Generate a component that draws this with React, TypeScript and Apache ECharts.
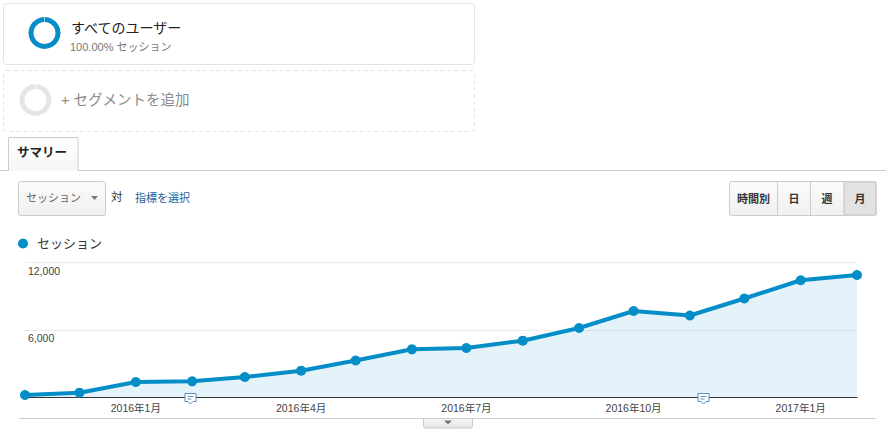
import React, { useEffect, useRef } from "react";
import * as echarts from "echarts";

const months = ["2015-11", "2015-12", "2016-01", "2016-02", "2016-03", "2016-04", "2016-05", "2016-06", "2016-07", "2016-08", "2016-09", "2016-10", "2016-11", "2016-12", "2017-01", "2017-02"];
const sessions = [222, 427, 1378, 1440, 1822, 2382, 3290, 4284, 4400, 5050, 6178, 7690, 7290, 8800, 10420, 10890];
const labelledMonths = ["2016-01", "2016-04", "2016-07", "2016-10", "2017-01"];
const yTicks = [6000, 12000];
const buttons = ["時間別", "日", "週", "月"];

const FONT = '"Liberation Sans", "Noto Sans CJK JP", sans-serif';
const BLUE = "#058dc7";
const ts = (m: string) => {
  const [y, mo] = m.split("-").map(Number);
  return Date.UTC(y, mo - 1, 1);
};

const txt = (text: string, x: number, y: number, fontSize: number, fill: string, extra: any = {}) => ({
  type: "text",
  x,
  y,
  silent: true,
  style: { text, fontSize, fill, fontFamily: FONT, verticalAlign: "middle", ...extra },
});
const grad = (a: string, b: string) => ({
  type: "linear", x: 0, y: 0, x2: 0, y2: 1,
  colorStops: [{ offset: 0, color: a }, { offset: 1, color: b }],
});
const rect = (x: number, y: number, width: number, height: number, style: any, r: any = 0) => ({
  type: "rect",
  silent: true,
  shape: { x, y, width, height, r },
  style,
});
const line = (x1: number, y1: number, x2: number, y2: number, stroke: string) => ({
  type: "line",
  silent: true,
  shape: { x1, y1, x2, y2 },
  style: { stroke, lineWidth: 1 },
});
const ring = (cx: number, cy: number, fill: string) => [
  { type: "ring", silent: true, shape: { cx, cy, r: 16, r0: 11 }, style: { fill } },
  rect(cx - 0.3, cy - 17, 0.6, 7, { fill: "#fff" }),
];
const bubble = (cx: number, y: number) => [
  { type: "polygon", silent: true, z: 20, shape: { points: [[cx - 6, y], [cx + 5, y], [cx + 5, y + 8], [cx + 2, y + 8], [cx - 0.5, y + 10.5], [cx - 3, y + 8], [cx - 6, y + 8]] }, style: { fill: "#fff", stroke: "#5b8db8", lineWidth: 1 } },
  { type: "line", silent: true, z: 21, shape: { x1: cx - 3.5, y1: y + 3, x2: cx + 2.5, y2: y + 3 }, style: { stroke: "#6f8fa8", lineWidth: 1 } },
  { type: "line", silent: true, z: 21, shape: { x1: cx - 3.5, y1: y + 5.5, x2: cx + 0.5, y2: y + 5.5 }, style: { stroke: "#6f8fa8", lineWidth: 1 } },
];

const btnEdges = [729.5, 777.5, 810.5, 843.5, 876.5];

export default function App() {
  const ref = useRef<HTMLDivElement>(null);
  useEffect(() => {
    document.body.style.margin = "0";
    const chart = echarts.init(ref.current!, undefined, { renderer: "svg" });
    const elements: any[] = [
      rect(3.5, 3.5, 471, 61, { fill: "#fff", stroke: "#e3e3e3", lineWidth: 1 }, 3),
      ...ring(44.5, 33, "#058dc7"),
      txt("すべてのユーザー", 71, 28, 14, "#222"),
      txt("100.00% セッション", 70, 47, 11, "#777"),
      rect(3.5, 70.5, 471, 61, { fill: "#fff", stroke: "#e3e3e3", lineWidth: 1, lineDash: [4, 3] }, 3),
      ...ring(35.5, 100, "#e5e5e5"),
      txt("+ セグメントを追加", 61, 100, 14.5, "#8a8a8a"),
      line(0, 170.5, 886, 170.5, "#cccccc"),
      rect(8.5, 137.5, 69.5, 33, { fill: grad("#ffffff", "#f6f6f6"), stroke: "#cccccc", lineWidth: 1 }),
      rect(9, 169, 68.5, 2, { fill: "#f6f6f6" }),
      txt("サマリー", 17, 153, 12.5, "#222", { fontWeight: "bold" }),
      rect(18.5, 181.5, 87, 34, { fill: grad("#fbfbfb", "#f0f0f0"), stroke: "#cccccc", lineWidth: 1 }, 2),
      txt("セッション", 26, 198, 11, "#666"),
      { type: "polygon", silent: true, shape: { points: [[91, 196], [98, 196], [94.5, 200]] }, style: { fill: "#777" } },
      txt("対", 111, 197, 11.5, "#333"),
      txt("指標を選択", 135, 198, 11, "#1a64a0"),
      rect(729.5, 181.5, 147, 34, { fill: grad("#fbfbfb", "#f0f0f0"), stroke: "#cccccc", lineWidth: 1 }, 2),
      rect(844, 182, 32, 33, { fill: "#e2e2e2", stroke: "#d0d0d0", lineWidth: 1.5 }, 2),
      line(777.5, 182, 777.5, 215, "#cccccc"),
      line(810.5, 182, 810.5, 215, "#cccccc"),
      ...buttons.map((b, i) => txt(b, (btnEdges[i] + btnEdges[i + 1]) / 2, 198.5, 11, "#333", { align: "center", fontWeight: "bold" })),
      line(19, 418.5, 876, 418.5, "#cccccc"),
      rect(423.5, 418.5, 49, 9.5, { fill: grad("#f8f8f8", "#e4e4e4"), stroke: "#cccccc", lineWidth: 1 }, [0, 0, 2, 2]),
      { type: "polygon", silent: true, shape: { points: [[444, 420.5], [452, 420.5], [448, 424.5]] }, style: { fill: "#777" } },
      ...bubble(191, 393.5),
      ...bubble(704, 393.5),
    ];
    chart.setOption({
      animation: false,
      textStyle: { fontFamily: FONT },
      legend: {
        left: 13,
        top: 232,
        itemWidth: 10,
        itemHeight: 10,
        icon: "circle",
        itemGap: 8,
        textStyle: { fontSize: 13, color: "#333", fontFamily: FONT, padding: [0, 0, 0, 4] },
        data: ["セッション"],
      },
      grid: { left: 25, right: 29, top: 262.5, bottom: 32.5 },
      xAxis: {
        type: "value",
        min: ts(months[0]),
        max: ts(months[months.length - 1]),
        axisLine: { show: true, lineStyle: { color: "#333", width: 1 } },
        axisTick: { show: false },
        splitLine: { show: false },
        axisLabel: {
          customValues: labelledMonths.map(ts),
          hideOverlap: false,
          margin: 5,
          fontSize: 10.5,
          color: "#444",
          fontFamily: FONT,
          formatter: (v: number) => {
            const d = new Date(v);
            return `${d.getUTCFullYear()}年${d.getUTCMonth() + 1}月`;
          },
        },
      },
      yAxis: {
        type: "value",
        min: 0,
        max: yTicks[1],
        interval: yTicks[0],
        axisLine: { show: false },
        axisTick: { show: false },
        splitLine: { lineStyle: { color: "#ececec", width: 1 } },
        axisLabel: {
          inside: true,
          margin: 3,
          fontSize: 10.5,
          color: "#444",
          fontFamily: FONT,
          verticalAlign: "top",
          padding: [3, 0, 0, 0],
          formatter: (v: number) => (v === 0 ? "" : v.toLocaleString("en-US")),
        },
      },
      series: [
        {
          name: "セッション",
          type: "line",
          data: months.map((m, i) => [ts(m), sessions[i]]),
          symbol: "circle",
          symbolSize: 10,
          showSymbol: true,
          clip: false,
          lineStyle: { color: BLUE, width: 4 },
          itemStyle: { color: BLUE },
          areaStyle: { color: "rgba(5,141,199,0.11)", opacity: 1 },
        },
      ],
      graphic: { elements },
    });
    return () => chart.dispose();
  }, []);
  return <div ref={ref} style={{ width: 886, height: 430 }} />;
}
